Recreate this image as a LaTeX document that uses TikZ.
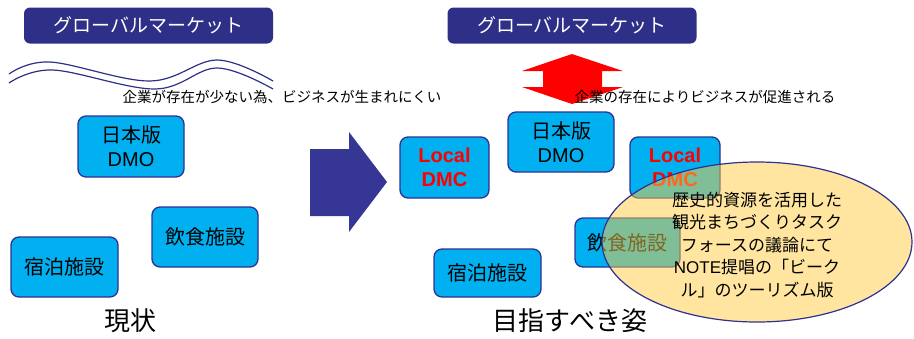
\documentclass[tikz,border=0pt]{standalone}
\usepackage{fontspec}
\setmainfont{Liberation Sans}
\newfontfamily\jp{Noto Sans CJK JP}
\usetikzlibrary{shapes.geometric}
\definecolor{navy}{HTML}{2E3087}
\definecolor{boxline}{HTML}{2E3192}
\definecolor{cyanfill}{HTML}{00B0F0}
\definecolor{arrownavy}{HTML}{363795}
\definecolor{ellfill}{HTML}{FFCC40}
\definecolor{dmcred}{HTML}{FF0000}
\tikzset{
  gmbox/.style={fill=navy, rounded corners=6pt, minimum width=249pt, minimum height=36pt, inner sep=0pt, text=white, font=\jp\fontsize{19}{21}\selectfont},
  facbox/.style={fill=cyanfill, draw=boxline, line width=1.3pt, rounded corners=8pt, inner sep=0pt, align=center, font=\fontsize{20}{24}\selectfont},
  dmc/.style={facbox, text=dmcred, font=\bfseries\fontsize{20}{24}\selectfont},
  caption/.style={inner sep=0pt, font=\jp\fontsize{14.5}{16}\selectfont},
  title/.style={inner sep=0pt, font=\jp\fontsize{26}{28}\selectfont},
  wave/.style={draw=navy, line width=1.2pt},
}
\begin{document}
\begin{tikzpicture}[x=1pt,y=-1pt]
\useasboundingbox (0,0) rectangle (914,338);
% global market boxes
\node[gmbox] (gm1) at (148.5,25.5) {グローバルマーケット};
\node[gmbox] (gm2) at (572,25.5) {グローバルマーケット};
% waves
\draw[wave] plot[smooth, tension=0.6] coordinates {(9,74) (50,62) (150,81) (217,60) (273,81)};
\draw[wave] plot[smooth, tension=0.6] coordinates {(9,83) (53,70) (155,89) (217,68) (273,89)};
% red double arrow
\fill[dmcred] (572,54) -- (623,71) -- (602,71) -- (602,87) -- (623,87) -- (572,104) -- (522,87) -- (543,87) -- (543,71) -- (522,71) -- cycle;
% captions
\node[caption] (cap1) at (282,97) {企業が存在が少ない為、ビジネスが生まれにくい};
\node[caption] (cap2) at (705,97) {企業の存在によりビジネスが促進される};
% big arrow
\fill[arrownavy] (310,149) -- (349,149) -- (349,132) -- (387,182) -- (349,232) -- (349,216) -- (310,216) -- cycle;
% left side
\node[facbox, minimum width=106pt, minimum height=61pt] (dmo1) at (131,146.5) {{\jp 日本版}\\DMO};
\node[facbox, minimum width=106pt, minimum height=60pt] (ins1) at (205,237) {\jp 飲食施設};
\node[facbox, minimum width=107pt, minimum height=60pt] (shk1) at (64.5,267) {\jp 宿泊施設};
\node[title] (now) at (130,321) {現状};
% right side
\node[dmc, minimum width=89pt, minimum height=61pt] (ldmc1) at (444.5,167.5) {Local\\DMC};
\node[facbox, minimum width=106pt, minimum height=60pt] (dmo2) at (561,142) {{\jp 日本版}\\DMO};
\node[dmc, minimum width=90pt, minimum height=61pt] (ldmc2) at (675,167.5) {Local\\DMC};
\node[facbox, minimum width=105pt, minimum height=49pt] (ins2) at (627.5,242.5) {\jp 飲食施設};
\node[facbox, minimum width=107pt, minimum height=48pt] (shk2) at (487.5,273) {\jp 宿泊施設};
\node[title] (goal) at (570,321) {目指すべき姿};
% ellipse
\node[ellipse, fill=ellfill, fill opacity=0.5, draw=boxline, draw opacity=1, line width=1.2pt, minimum width=310pt, minimum height=160pt, inner sep=0pt] (ell) at (757,242) {};
\node[inner sep=0pt, align=center, font=\jp\fontsize{17}{22.5}\selectfont] (elltext) at (757,245) {歴史的資源を活用した\\観光まちづくりタスク\\フォースの議論にて\\{\rmfamily NOTE}提唱の「ビーク\\ル」のツーリズム版};
\end{tikzpicture}
\end{document}
